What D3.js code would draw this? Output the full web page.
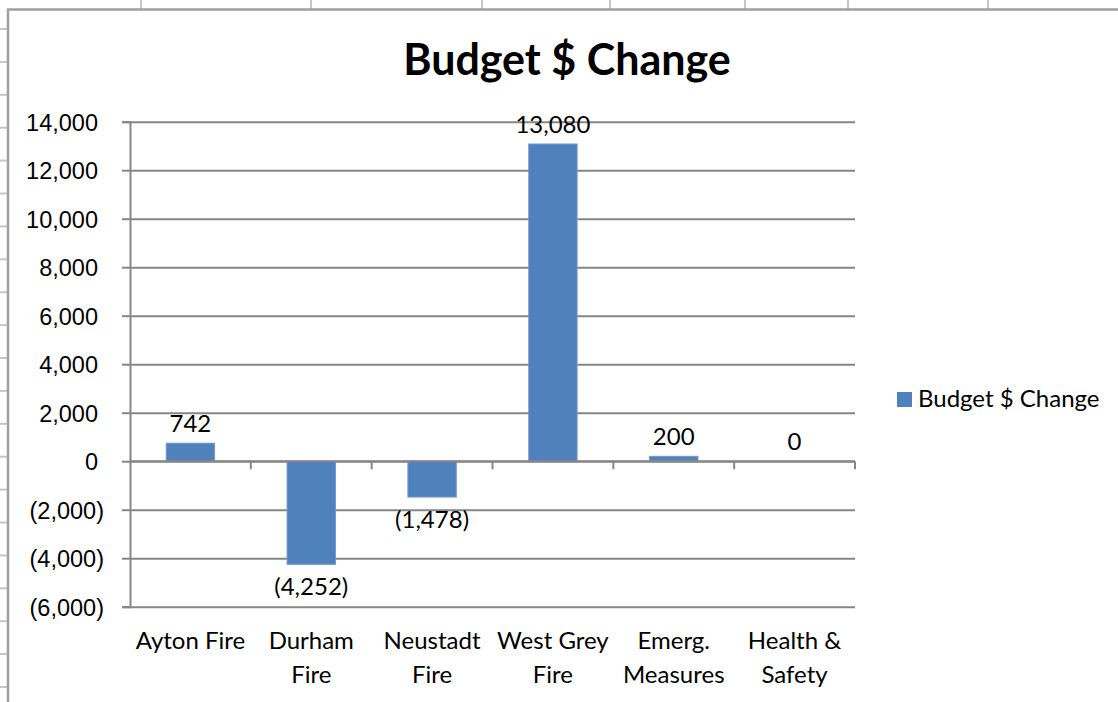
<!DOCTYPE html>
<html>
<head>
<meta charset="utf-8">
<script src="https://cdn.jsdelivr.net/npm/d3@7"></script>
<style>
  body { margin: 0; background: #fff; }
  svg { display: block; font-family: Lato, "Open Sans", sans-serif; }
</style>
</head>
<body>
<span></span>
<script>
// Budget $ change by department, Excel-style column chart

const categories = [["Ayton Fire"], ["Durham", "Fire"], ["Neustadt", "Fire"], ["West Grey", "Fire"], ["Emerg.", "Measures"], ["Health &", "Safety"]];
const values = [742, -4252, -1478, 13080, 200, 0];
const yTicks = [-6000, -4000, -2000, 0, 2000, 4000, 6000, 8000, 10000, 12000, 14000];
const seriesName = "Budget $ Change";

const width = 1118, height = 702;
const plot = {left: 130, right: 855, top: 121.7, bottom: 606.7};
const barColor = "#4f81bd";
const gridColor = "#868686";

const svg = d3.select("span")
    .append("svg")
    .attr("width", width)
    .attr("height", height);

// spreadsheet cells showing around the chart
const sheet = svg.append("g").attr("stroke", "#c6c6c6").attr("stroke-width", 2);
[141, 311, 482, 610, 745, 848, 988].forEach(x => {
    sheet.append("line").attr("x1", x).attr("x2", x).attr("y1", 0).attr("y2", 9);
});
d3.range(29, height, 32.9).forEach(y => {
    sheet.append("line").attr("x1", 0).attr("x2", 8).attr("y1", y).attr("y2", y);
});

// chart frame
svg.append("path")
    .attr("d", `M8,${height + 5}V9.5H${width + 5}`)
    .attr("fill", "none")
    .attr("stroke", "#a0a0a0")
    .attr("stroke-width", 2.5);

// scales
const xScale = d3.scaleBand()
    .domain(d3.range(categories.length))
    .range([plot.left, plot.right])
    .paddingInner(0.6)
    .paddingOuter(0.3);
const xBand = d3.scaleBand()
    .domain(d3.range(categories.length))
    .range([plot.left, plot.right]);
const yScale = d3.scaleLinear()
    .domain([-6000, 14000])
    .range([plot.bottom, plot.top]);

const fmt = v => v < 0 ? `(${d3.format(",")(-v)})` : d3.format(",")(v);

// gridlines and y axis
const yAxis = svg.append("g")
    .attr("transform", `translate(${plot.left}, 0)`)
    .call(d3.axisLeft(yScale)
        .tickValues(yTicks)
        .tickSize(8)
        .tickPadding(0)
        .tickFormat(fmt));
yAxis.select(".domain").attr("stroke", gridColor).attr("stroke-width", 2);
yAxis.selectAll(".tick line").clone()
    .attr("x2", plot.right - plot.left);
yAxis.selectAll(".tick line").attr("stroke", gridColor).attr("stroke-width", 2);
yAxis.selectAll(".tick text")
    .attr("x", d => d < 0 ? -26 : -32)
    .attr("dy", "0.36em")
    .attr("fill", "#000")
    .style("font-size", "23.5px");

// bars
svg.append("g")
    .selectAll("rect")
    .data(values)
    .join("rect")
    .attr("x", (d, i) => xScale(i))
    .attr("y", d => yScale(Math.max(0, d)))
    .attr("width", xScale.bandwidth())
    .attr("height", d => Math.abs(yScale(d) - yScale(0)))
    .attr("fill", barColor)
    .attr("stroke", "#6f97cc")
    .attr("stroke-width", 1);

// category axis along zero
const xAxis = svg.append("g")
    .attr("transform", `translate(0, ${yScale(0)})`);
xAxis.append("line")
    .attr("x1", plot.left).attr("x2", plot.right)
    .attr("stroke", gridColor).attr("stroke-width", 2);
xAxis.selectAll(".tk")
    .data(d3.range(1, categories.length + 1))
    .join("line")
    .attr("class", "tk")
    .attr("x1", i => xBand(i - 1) + xBand.bandwidth())
    .attr("x2", i => xBand(i - 1) + xBand.bandwidth())
    .attr("y1", 0).attr("y2", 8)
    .attr("stroke", gridColor).attr("stroke-width", 2);

// category labels under the plot
svg.append("g")
    .selectAll("text")
    .data(categories)
    .join("text")
    .attr("x", (d, i) => xBand(i) + xBand.bandwidth() / 2)
    .attr("y", 649)
    .attr("text-anchor", "middle")
    .style("font-size", "24px")
    .selectAll("tspan")
    .data(d => d)
    .join("tspan")
    .attr("x", function() { return this.parentNode.getAttribute("x"); })
    .attr("dy", (d, i) => i === 0 ? 0 : 34)
    .text(d => d);

// data labels
svg.append("g")
    .selectAll("text")
    .data(values)
    .join("text")
    .attr("x", (d, i) => xScale(i) + xScale.bandwidth() / 2)
    .attr("y", d => d < 0 ? yScale(d) + 31 : yScale(d) - 11)
    .attr("text-anchor", "middle")
    .style("font-size", "24px")
    .text(fmt);

// title
svg.append("text")
    .attr("x", 567)
    .attr("y", 75)
    .attr("text-anchor", "middle")
    .style("font-size", "43px")
    .style("font-weight", "bold")
    .text(seriesName);

// legend
const legend = svg.append("g").attr("transform", "translate(897, 392)");
legend.append("rect")
    .attr("width", 15).attr("height", 15)
    .attr("fill", barColor);
legend.append("text")
    .attr("x", 21).attr("y", 15)
    .style("font-size", "24px")
    .text(seriesName);
</script>
</body>
</html>
